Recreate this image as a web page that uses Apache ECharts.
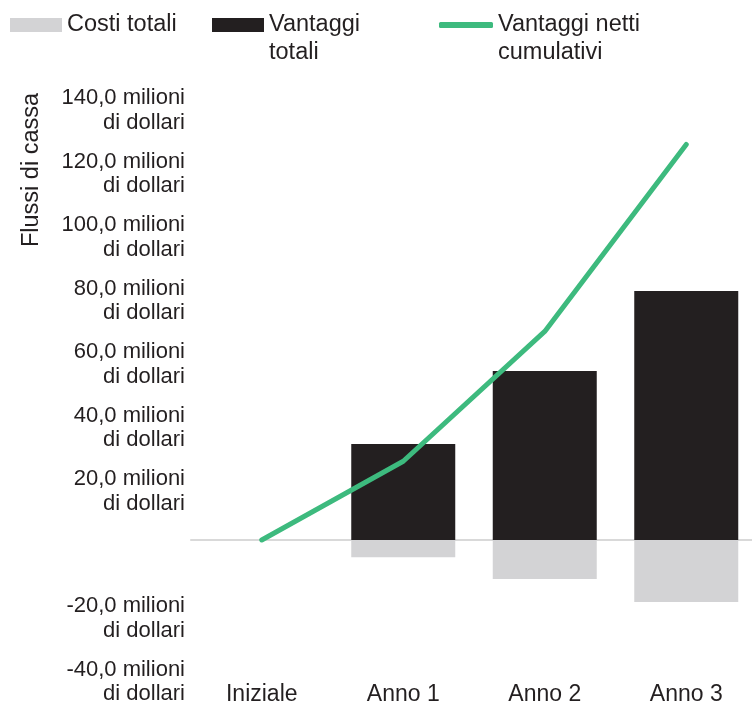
<!DOCTYPE html>
<html>
<head>
<meta charset="utf-8">
<script src="https://cdn.jsdelivr.net/npm/echarts@6/dist/echarts.min.js"></script>
<style>
  html, body { margin: 0; padding: 0; background: #fff; }
  #chart { width: 752px; height: 704px; }
</style>
</head>
<body>
<div id="chart"></div>
<script>
// dati (milioni di dollari)
var categories = ['Iniziale', 'Anno 1', 'Anno 2', 'Anno 3'];
var costiTotali = [0, -5.4, -12.3, -19.5];
var vantaggiTotali = [0, 30.2, 53.2, 78.4];
var vantaggiNetti = [0, 24.8, 65.7, 124.6];

var font = 'Liberation Sans, Arial, sans-serif';
var textColor = '#231f20';
var verde = '#3dba7e';

var chart = echarts.init(document.getElementById('chart'));

// una legenda per voce, così le posizioni restano fisse
function legendBox(left, top, name, label, icon, w, h) {
  return {
    left: left,
    top: top,
    padding: 0,
    icon: icon,
    itemWidth: w,
    itemHeight: h,
    itemGap: 5,
    selectedMode: false,
    data: [name],
    formatter: function () { return label; },
    textStyle: {
      fontFamily: font,
      fontSize: 23.5,
      color: textColor,
      lineHeight: 28
    }
  };
}

var option = {
  animation: false,
  legend: [
    legendBox(10, 11, 'Costi totali', 'Costi totali', 'rect', 52, 14),
    // riga vuota in testa: la prima riga resta allineata all'icona
    legendBox(212, -17, 'Vantaggi totali', '\nVantaggi\ntotali', 'rect', 52, 14),
    legendBox(439, -17, 'Vantaggi netti cumulativi', '\nVantaggi netti\ncumulativi', 'roundRect', 54, 6)
  ],
  grid: {
    left: 191,
    right: -5,
    top: 95.5,
    bottom: 37,
    outerBoundsMode: 'none'
  },
  xAxis: {
    type: 'category',
    data: categories,
    axisTick: { show: false },
    axisLine: {
      onZero: true,
      lineStyle: { color: '#d9d9d9', width: 2 }
    },
    axisLabel: {
      fontFamily: font,
      fontSize: 23,
      color: textColor,
      margin: 16
    }
  },
  yAxis: {
    type: 'value',
    min: -40,
    max: 140,
    interval: 20,
    axisLine: { show: false },
    axisTick: { show: false },
    splitLine: { show: false },
    axisLabel: {
      fontFamily: font,
      fontSize: 22,
      color: textColor,
      margin: 6,
      verticalAlign: 'top',
      showMinLabel: true,
      showMaxLabel: true,
      hideOverlap: false,
      formatter: function (v) {
        if (v === 0) return '';
        return '{a|' + v.toFixed(1).replace('.', ',') + ' milioni}\n{b|di dollari}';
      },
      rich: {
        a: { fontFamily: font, fontSize: 22, color: textColor, lineHeight: 5 },
        b: { fontFamily: font, fontSize: 22, color: textColor, lineHeight: 44 }
      }
    }
  },
  graphic: [{
    type: 'text',
    x: 32,
    y: 170,
    rotation: Math.PI / 2,
    style: {
      text: 'Flussi di cassa',
      fontFamily: font,
      fontSize: 23.5,
      fill: textColor,
      align: 'center',
      verticalAlign: 'middle'
    }
  }],
  series: [
    {
      name: 'Costi totali',
      type: 'bar',
      stack: 'flussi',
      barWidth: 104,
      data: costiTotali,
      itemStyle: { color: '#d3d3d5' }
    },
    {
      name: 'Vantaggi totali',
      type: 'bar',
      stack: 'flussi',
      barWidth: 104,
      data: vantaggiTotali,
      itemStyle: { color: '#231f20' }
    },
    {
      name: 'Vantaggi netti cumulativi',
      type: 'line',
      data: vantaggiNetti,
      symbol: 'none',
      color: verde,
      lineStyle: { color: verde, width: 5, cap: 'round', join: 'round' },
      itemStyle: { color: verde },
      z: 5
    }
  ]
};

chart.setOption(option);
</script>
</body>
</html>
